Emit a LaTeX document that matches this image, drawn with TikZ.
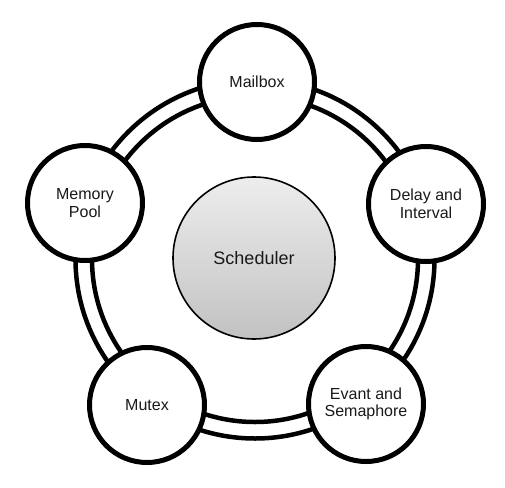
\documentclass[tikz,border=0pt]{standalone}
\usepackage{fontspec}
\setmainfont{Liberation Sans}
\begin{document}
\begin{tikzpicture}[x=1pt,y=-1pt,
  ring/.style={draw=black,line width=4.5pt},
  item/.style={circle,draw=black,line width=5pt,fill=white,minimum size=115pt,inner sep=0pt,
    align=center,font=\fontsize{16}{17.5}\selectfont,text=black!90},
  sched/.style={circle,draw=black,line width=1.6pt,minimum size=162pt,inner sep=0pt,
    top color=gray!14,bottom color=gray!48,shading angle=0,
    font=\fontsize{18}{20}\selectfont,text=black!90}]
\useasboundingbox (0,0) rectangle (505,487);
\coordinate (c) at (255,259);
\draw[ring] (c) circle[radius=179.5pt];
\draw[ring] (c) circle[radius=163pt];
\node[sched] (s) at (254,258) {Scheduler};
\node[item] (mb) at (257,82) {Mailbox};
\node[item] (di) at (426,204) {Delay and\\Interval};
\node[item] (es) at (366,404) {Evant and\\Semaphore};
\node[item] (mu) at (147,405) {Mutex};
\node[item] (mp) at (85,203) {Memory\\Pool};
\end{tikzpicture}
\end{document}
